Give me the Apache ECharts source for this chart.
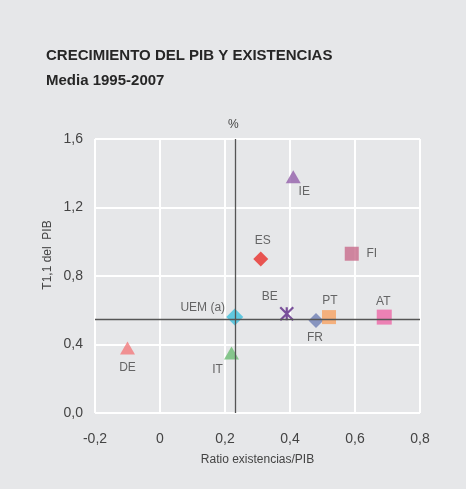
<!DOCTYPE html>
<html><head><meta charset="utf-8">
<script src="https://cdn.jsdelivr.net/npm/echarts@6/dist/echarts.min.js"></script>
<style>html,body{margin:0;padding:0;background:#e6e7e9;}#c{width:466px;height:489px;}</style>
</head><body><div id="c"></div>
<script>
const countries = ['UEM (a)','BE','FR','PT','AT','DE','IT','IE','ES','FI'];
const ratioExist = [0.23, 0.39, 0.48, 0.52, 0.69, -0.10, 0.22, 0.41, 0.31, 0.59];
const growthPIB  = [0.56, 0.58, 0.54, 0.56, 0.56, 0.38, 0.35, 1.38, 0.90, 0.93];
const colors = ['#3ec1dd','#5e2a86','#6f80b4','#f7a262','#ee68a6','#f27a7c','#6cbd73','#9460aa','#e8302a','#c86c8b'];
const symbols = ['diamond','path://M0,0L10,10M10,0L0,10M5,0L5,10','diamond','rect','rect','triangle','triangle','triangle','diamond','rect'];
const sizes = [[17,17],[13,13],[15,15],[14,14],[15,15],[15,13],[15,13],[15,13],[15,15],[14,14]];
const labelPos = [[-32,-9],[-17,-17],[-1,17],[1,-16],[-1,-15],[0,20],[-14,17],[11,15],[2,-18],[20,0]];
const xTicks = [-0.2, 0, 0.2, 0.4, 0.6, 0.8];
const yTicks = [0, 0.4, 0.8, 1.2, 1.6];
const refX = 0.23, refY = 0.55;

const font = 'Liberation Sans, Arial, sans-serif';
const series = countries.map((name, i) => ({
  type: 'scatter',
  name: name,
  data: [[ratioExist[i], growthPIB[i]]],
  symbol: symbols[i],
  symbolSize: sizes[i],
  itemStyle: i === 1 ? {color: 'none', borderColor: colors[i], borderWidth: 2.2} : {color: colors[i]},
  label: {show: true, formatter: name, position: 'inside', offset: labelPos[i], color: '#444', fontSize: 12, fontFamily: font},
  z: 2
}));
series.push({
  type: 'line', data: [], z: 10,
  markLine: {
    silent: true, symbol: 'none', label: {show: false},
    lineStyle: {color: '#555', width: 1.3, type: 'solid'},
    data: [{xAxis: refX}, {yAxis: refY}],
    animation: false
  }
});
const chart = echarts.init(document.getElementById('c'));
chart.setOption({
  backgroundColor: '#e6e7e9',
  animation: false,
  grid: {left: 95, right: 46, top: 139, bottom: 76},
  title: {
    text: 'CRECIMIENTO DEL PIB Y EXISTENCIAS\nMedia 1995-2007',
    left: 41, top: 38,
    textStyle: {fontSize: 15, fontWeight: 'bold', color: '#262626', fontFamily: font, lineHeight: 25}
  },
  graphic: [
    {type: 'text', left: 228, top: 119, style: {text: '%', fontSize: 12, fill: '#444', fontFamily: font}},
    {type: 'text', x: 48, y: 255, rotation: Math.PI/2, style: {text: 'T1,1 del  PIB', fontSize: 12, fill: '#444', fontFamily: font, align: 'center', verticalAlign: 'middle'}}
  ],
  xAxis: {
    type: 'value', min: -0.2, max: 0.8, interval: 0.2,
    axisLine: {show: false}, axisTick: {show: false},
    splitLine: {lineStyle: {color: '#fff', width: 2}},
    axisLabel: {color: '#444', fontSize: 14, fontFamily: font, margin: 19,
      formatter: v => { const t = xTicks.find(k => Math.abs(k - v) < 1e-6); return t === undefined ? '' : (t === 0 ? '0' : t.toFixed(1).replace('.', ',')); }},
    name: 'Ratio existencias/PIB', nameLocation: 'middle', nameGap: 41,
    nameTextStyle: {color: '#444', fontSize: 12, fontFamily: font}
  },
  yAxis: {
    type: 'value', min: 0, max: 1.6, interval: 0.4,
    axisLine: {show: false}, axisTick: {show: false},
    splitLine: {lineStyle: {color: '#fff', width: 2}},
    axisLabel: {color: '#444', fontSize: 14, fontFamily: font, margin: 12,
      formatter: v => { const t = yTicks.find(k => Math.abs(k - v) < 1e-6); return t === undefined ? '' : t.toFixed(1).replace('.', ','); }}
  },
  series: series
});
</script></body></html>
